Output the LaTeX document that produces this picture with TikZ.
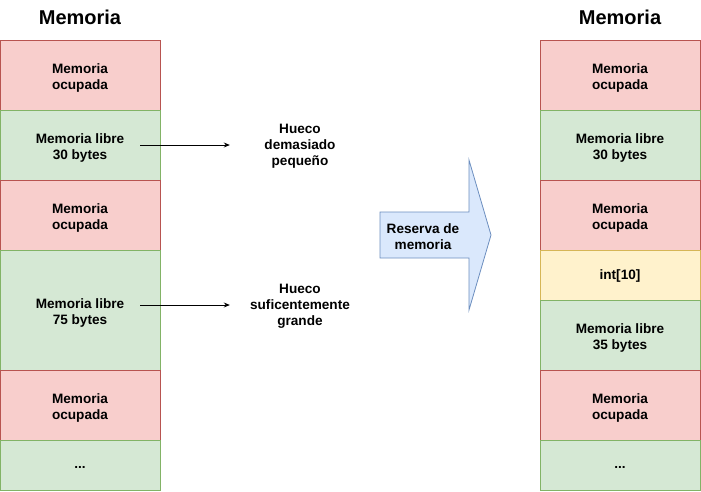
\documentclass[tikz,border=0pt]{standalone}
\usepackage{fontspec}
\setmainfont{Liberation Sans}
\usetikzlibrary{arrows.meta}
\definecolor{redf}{HTML}{F8CECC}\definecolor{redd}{HTML}{B85450}
\definecolor{grnf}{HTML}{D5E8D4}\definecolor{grnd}{HTML}{82B366}
\definecolor{yelf}{HTML}{FFF2CC}\definecolor{yeld}{HTML}{D6B656}
\definecolor{bluf}{HTML}{DAE8FC}\definecolor{blud}{HTML}{6C8EBF}
\begin{document}
\begin{tikzpicture}[x=1pt,y=-1pt,
  cell/.style={draw, line width=0.8pt, minimum width=160pt, inner sep=0pt},
  used/.style={cell, fill=redf, draw=redd},
  free/.style={cell, fill=grnf, draw=grnd},
  newd/.style={cell, fill=yelf, draw=yeld},
  txt/.style={align=center, inner sep=0pt, font=\fontsize{13.6}{16}\selectfont\bfseries},
  head/.style={font=\fontsize{20}{24}\selectfont\bfseries},
  lbl/.style={align=center, text width=120pt, inner sep=10pt, font=\fontsize{13.6}{16}\selectfont\bfseries},
  conn/.style={-{Stealth[length=6pt,width=5pt]}, line width=0.8pt}]
\useasboundingbox (0,0) rectangle (701,491);
% left column
\node[head] (hl) at (80,17) {Memoria};
\node[used, minimum height=70pt] (l1) at (80,75) {};
\node[free, minimum height=70pt] (l2) at (80,145) {};
\node[used, minimum height=70pt] (l3) at (80,215) {};
\node[free, minimum height=120pt] (l4) at (80,310) {};
\node[used, minimum height=70pt] (l5) at (80,405) {};
\node[free, minimum height=50pt] (l6) at (80,465) {};
\node[txt] (tl1) at ([yshift=-2.5pt]l1.center) {Memoria\\ocupada};
\node[txt] (tl2) at ([yshift=-2.5pt]l2.center) {Memoria libre\\30 bytes};
\node[txt] (tl3) at ([yshift=-2.5pt]l3.center) {Memoria\\ocupada};
\node[txt] (tl4) at ([yshift=-2.5pt]l4.center) {Memoria libre\\75 bytes};
\node[txt] (tl5) at ([yshift=-2.5pt]l5.center) {Memoria\\ocupada};
\node[txt] (tl6) at ([yshift=-2pt]l6.center) {...};
% right column
\node[head] (hr) at (620,17) {Memoria};
\node[used, minimum height=70pt] (r1) at (620,75) {};
\node[free, minimum height=70pt] (r2) at (620,145) {};
\node[used, minimum height=70pt] (r3) at (620,215) {};
\node[newd, minimum height=50pt] (r4) at (620,275) {};
\node[free, minimum height=70pt] (r5) at (620,335) {};
\node[used, minimum height=70pt] (r6) at (620,405) {};
\node[free, minimum height=50pt] (r7) at (620,465) {};
\node[txt] (tr1) at ([yshift=-2.5pt]r1.center) {Memoria\\ocupada};
\node[txt] (tr2) at ([yshift=-2.5pt]r2.center) {Memoria libre\\30 bytes};
\node[txt] (tr3) at ([yshift=-2.5pt]r3.center) {Memoria\\ocupada};
\node[txt] (tr4) at ([yshift=-1pt]r4.center) {int[10]};
\node[txt] (tr5) at ([yshift=-2.5pt]r5.center) {Memoria libre\\35 bytes};
\node[txt] (tr6) at ([yshift=-2.5pt]r6.center) {Memoria\\ocupada};
\node[txt] (tr7) at ([yshift=-2pt]r7.center) {...};
% labels and connectors
\node[lbl] (h1) at (300,146) {Hueco\\demasiado\\pequeño};
\node[lbl] (h2) at (300,306) {Hueco\\suficentemente\\grande};
\coordinate (s1) at (140,145);
\coordinate (s2) at (140,305);
\draw[conn] (s1) -- (s1 -| h1.west);
\draw[conn] (s2) -- (s2 -| h2.west);
% big arrow
\draw[fill=bluf, draw=blud, line width=0.8pt]
  (380,212) -- (469,212) -- (469,160) -- (491,235) -- (469,310) -- (469,258) -- (380,258) -- cycle;
\node[align=center, font=\fontsize{13.6}{16}\selectfont\bfseries] (ar) at (423,237) {Reserva de\\memoria};
\end{tikzpicture}
\end{document}
